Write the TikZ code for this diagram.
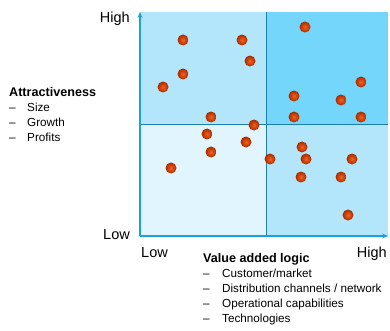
\documentclass[tikz,border=0pt]{standalone}
\usepackage{fontspec}
\setmainfont{Liberation Sans}
\usetikzlibrary{positioning, arrows.meta}
\definecolor{quadlight}{HTML}{E0F5FD}
\definecolor{quadmid}{HTML}{B3E6FA}
\definecolor{quaddark}{HTML}{73D6FA}
\definecolor{axisblue}{HTML}{1BA1DB}
\definecolor{divblue}{HTML}{1E7FAE}
\definecolor{dotin}{HTML}{F4601E}
\definecolor{dotout}{HTML}{A82C00}
\tikzset{
  dot/.style={circle, minimum size=11pt, inner sep=0pt, shade,
    inner color=dotin, outer color=dotout},
  axis/.style={axisblue, line width=1.5pt, -{Stealth[length=6pt, width=5pt]}},
  divider/.style={divblue, line width=0.9pt},
  ticklabel/.style={font=\fontsize{14.5}{16}\selectfont, inner sep=0pt},
  heading/.style={font=\bfseries\fontsize{12.6}{14}\selectfont, inner sep=0pt, anchor=base west},
  item/.style={font=\fontsize{11.7}{13}\selectfont, inner sep=0pt},
  itemdash/.style={font=\fontsize{11.7}{13}\selectfont, inner sep=0pt, anchor=base west}
}

\begin{document}
\begin{tikzpicture}[x=1pt, y=-1pt]
  \useasboundingbox (0,0) rectangle (390,331);

  % quadrants
  \fill[quadmid]   (140,12)  rectangle (266,124);
  \fill[quaddark]  (266,12)  rectangle (388,124);
  \fill[quadlight] (140,124) rectangle (266,236);
  \fill[quadmid]   (266,124) rectangle (388,236);

  \coordinate (O) at (140,236);
  \coordinate (ytip) at (140,12);
  \coordinate (xtip) at (388,236);
  \coordinate (midtop) at (266,12);
  \coordinate (midbot) at (266,236);
  \coordinate (midleft) at (140,124);
  \coordinate (midright) at (388,124);

  \draw[divider] (midtop) -- (midbot);
  \draw[divider] (midleft) -- (midright);
  \draw[axis] (O) -- (ytip);
  \draw[axis] (O) -- (xtip);

  % axis labels
  \node[ticklabel, anchor=base east] (yhigh) at (130,23) {High};
  \node[ticklabel, anchor=base east] (ylow) at (130,239) {Low};
  \node[ticklabel, anchor=base west] (xlow) at (141,257) {Low};
  \node[ticklabel, anchor=base east] (xhigh) at (387,257) {High};

  % attractiveness
  \node[heading] (att) at (9,97) {Attractiveness};
  \node[item, below=15pt of att.base west, anchor=base west, xshift=18pt] (att1) {Size};
  \node[item, below=15pt of att1.base west, anchor=base west] (att2) {Growth};
  \node[item, below=15pt of att2.base west, anchor=base west] (att3) {Profits};
  \foreach \n in {att1, att2, att3}
    \node[itemdash] (\n-dash) at ([xshift=-18pt]\n.base west) {--};

  % value added logic
  \node[heading] (val) at (203,262) {Value added logic};
  \node[item, below=15pt of val.base west, anchor=base west, xshift=19pt] (val1) {Customer/market};
  \node[item, below=15pt of val1.base west, anchor=base west] (val2) {Distribution channels / network};
  \node[item, below=15pt of val2.base west, anchor=base west] (val3) {Operational capabilities};
  \node[item, below=15pt of val3.base west, anchor=base west] (val4) {Technologies};
  \foreach \n in {val1, val2, val3, val4}
    \node[itemdash] (\n-dash) at ([xshift=-19pt]\n.base west) {--};

  % companies
  \foreach \x/\y [count=\i] in {183/40, 242/40, 305/27, 250/61, 183/74, 163/87,
      361/82, 294/96, 341/100, 211/117, 294/117, 361/117, 254/125, 207/134,
      246/142, 302/147, 211/152, 270/159, 306/159, 352/159, 171/168, 301/177,
      341/177, 348/215}
    \node[dot] (c\i) at (\x,\y) {};
\end{tikzpicture}
\end{document}
